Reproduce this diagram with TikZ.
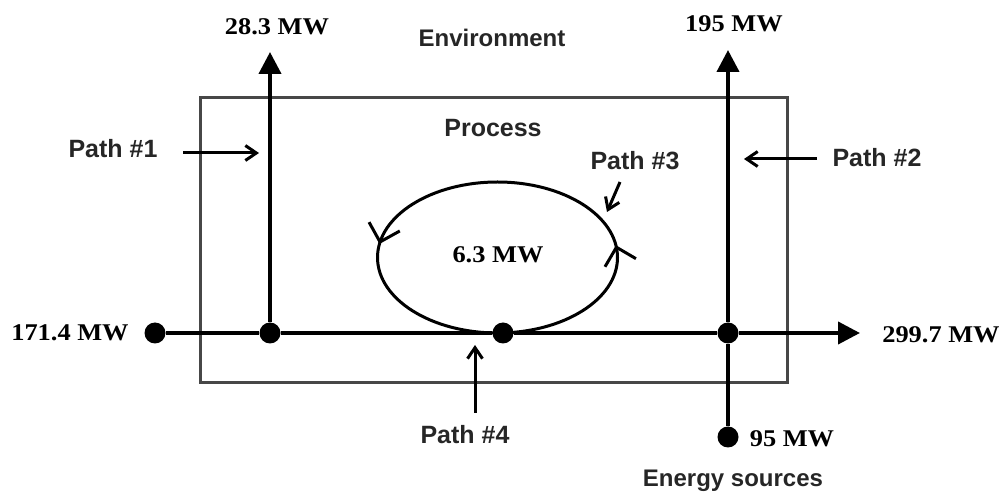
\documentclass[tikz,border=0pt]{standalone}
\usepackage{fontspec}
\setmainfont{Liberation Serif}
\newfontfamily\mwfamily[FakeStretch=1.1]{Liberation Serif}
\newfontfamily\sansfam{Liberation Sans}
\usetikzlibrary{arrows.meta,decorations.markings}
\tikzset{
  mw/.style={font=\mwfamily\bfseries\fontsize{24}{28}\selectfont, inner sep=0pt, anchor=base},
  lbl/.style={font=\sansfam\bfseries\fontsize{25}{30}\selectfont, inner sep=0pt, anchor=base, text=black!85},
  lblsmall/.style={lbl, font=\sansfam\bfseries\fontsize{24}{28}\selectfont},
  dot/.style={circle, fill=black, minimum size=21pt, inner sep=0pt},
  flow/.style={line width=4pt, draw=black},
  flowarrow/.style={flow, -{Triangle[length=22pt,width=22pt]}},
  pointer/.style={line width=3pt, -{Straight Barb[length=11pt,width=15pt]}},
  procbox/.style={draw=black!72, line width=3pt, inner sep=0pt},
  ring/.style={line width=3pt, postaction={decorate}, decoration={markings,
     mark=at position 0.02 with {\arrow{Straight Barb[length=16pt,width=32pt]}},
     mark=at position 0.478 with {\arrow{Straight Barb[length=16pt,width=32pt]}}}}
}
\begin{document}
\begin{tikzpicture}[x=1pt,y=1pt]
\useasboundingbox (0,0) rectangle (1005,493);
% process box
\node[procbox, minimum width=587pt, minimum height=285pt] (process) at (493.5,252.5) {};
% dots
\node[dot] (d1) at (155,160) {};
\node[dot] (d2) at (270,160) {};
\node[dot] (d3) at (503,160) {};
\node[dot] (d4) at (728,160) {};
\node[dot] (d5) at (728,56) {};
\coordinate (t1) at (270,441);
\coordinate (t2) at (728,443);
\coordinate (t3) at (860,160);
% flows
\draw[flow] (d1) -- (d2) -- (d3) -- (d4);
\draw[flowarrow] (d4) -- (t3);
\draw[flowarrow] (d2) -- (t1);
\draw[flow] (d5) -- (d4);
\draw[flowarrow] (d4) -- (t2);
% loop
\node[mw] (m63) at (498,230) {6.3 MW};
\coordinate (lc) at (497.5,235.5);
\draw[ring] (lc) ellipse [x radius=120pt, y radius=75.5pt];
% labels
\node[mw] (m283) at (277,458) {28.3 MW};
\node[lblsmall] (env) at (492,446) {Environment};
\node[mw] (m195) at (734,461) {195 MW};
\node[lbl] (proc) at (493,356) {Process};
\node[lbl] (p1) at (113,335) {Path \#1};
\node[lbl] (p2) at (877,326) {Path \#2};
\node[lbl] (p3) at (635,323) {Path \#3};
\node[lbl] (p4) at (465,49) {Path \#4};
\node[mw] (m1714) at (70,152) {171.4 MW};
\node[mw] (m2997) at (941,150) {299.7 MW};
\node[mw] (m95) at (792,46) {95 MW};
\node[lblsmall] (src) at (733,6) {Energy sources};
% pointers
\coordinate (a1) at (183,340); \coordinate (b1) at (259,340);
\coordinate (a2) at (817,334); \coordinate (b2) at (744,334);
\coordinate (a3) at (620,311); \coordinate (b3) at (607,281);
\coordinate (a4) at (475,80);  \coordinate (b4) at (475,148);
\draw[pointer] (a1) -- (b1);
\draw[pointer] (a2) -- (b2);
\draw[pointer] (a3) -- (b3);
\draw[pointer] (a4) -- (b4);
\end{tikzpicture}
\end{document}
